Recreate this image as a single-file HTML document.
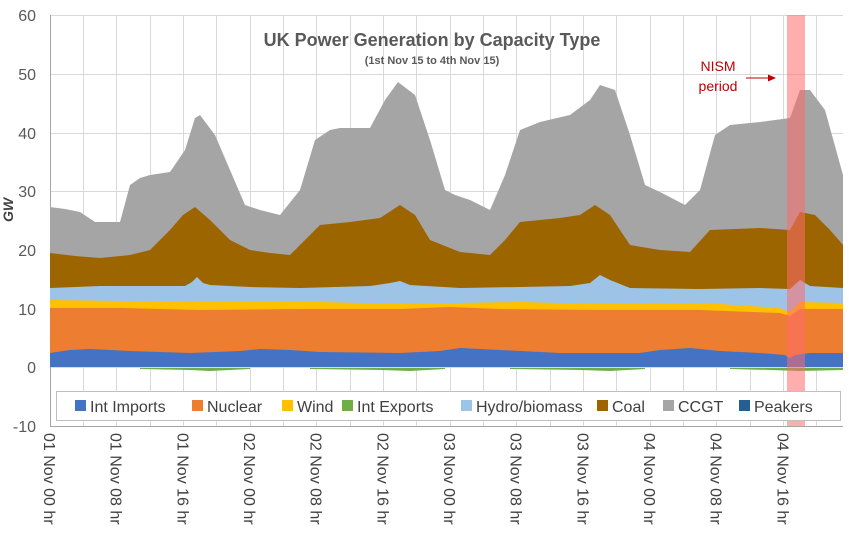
<!DOCTYPE html>
<html><head><meta charset="utf-8"><style>
body{margin:0;background:#fff;}
svg{display:block;font-family:"Liberation Sans",sans-serif;}
</style></head><body>
<svg width="849" height="537" viewBox="0 0 849 537" xmlns="http://www.w3.org/2000/svg">
<rect width="849" height="537" fill="#fff"/>
<g stroke="#d9d9d9" stroke-width="1">
<line x1="50" y1="15.5" x2="843" y2="15.5"/><line x1="50" y1="74.5" x2="843" y2="74.5"/><line x1="50" y1="133.5" x2="843" y2="133.5"/><line x1="50" y1="191.5" x2="843" y2="191.5"/><line x1="50" y1="250.5" x2="843" y2="250.5"/><line x1="50" y1="309.5" x2="843" y2="309.5"/><line x1="50" y1="367.5" x2="843" y2="367.5"/>
<line x1="83.5" y1="15" x2="83.5" y2="426"/><line x1="116.5" y1="15" x2="116.5" y2="426"/><line x1="150.5" y1="15" x2="150.5" y2="426"/><line x1="183.5" y1="15" x2="183.5" y2="426"/><line x1="216.5" y1="15" x2="216.5" y2="426"/><line x1="250.5" y1="15" x2="250.5" y2="426"/><line x1="283.5" y1="15" x2="283.5" y2="426"/><line x1="316.5" y1="15" x2="316.5" y2="426"/><line x1="350.5" y1="15" x2="350.5" y2="426"/><line x1="383.5" y1="15" x2="383.5" y2="426"/><line x1="416.5" y1="15" x2="416.5" y2="426"/><line x1="450.5" y1="15" x2="450.5" y2="426"/><line x1="483.5" y1="15" x2="483.5" y2="426"/><line x1="516.5" y1="15" x2="516.5" y2="426"/><line x1="550.5" y1="15" x2="550.5" y2="426"/><line x1="583.5" y1="15" x2="583.5" y2="426"/><line x1="616.5" y1="15" x2="616.5" y2="426"/><line x1="650.5" y1="15" x2="650.5" y2="426"/><line x1="683.5" y1="15" x2="683.5" y2="426"/><line x1="716.5" y1="15" x2="716.5" y2="426"/><line x1="750.5" y1="15" x2="750.5" y2="426"/><line x1="783.5" y1="15" x2="783.5" y2="426"/><line x1="816.5" y1="15" x2="816.5" y2="426"/>
</g>
<g stroke="#a6a6a6" stroke-width="1" fill="none">
<line x1="50.5" y1="15" x2="50.5" y2="426"/><line x1="50" y1="426.5" x2="843" y2="426.5"/>
</g>
<polygon fill="#a5a5a5" points="50,367 50,207 65,209 80,212 95,222 120,222 130,185 140,178 150,175 170,172 185,150 195,118 200,115 215,135 230,170 245,205 260,210 280,215 300,190 315,140 330,130 340,128 370,128 385,100 398,82 415,95 430,140 445,190 455,195 470,200 490,210 505,175 520,130 540,122 570,115 590,100 600,85 615,90 630,135 645,185 660,192 685,205 700,190 715,135 730,125 760,122 790,118 800,90 810,90 825,110 843,175 843,367"/>
<polygon fill="#9c6500" points="50,367 50,253 75,256 100,258 130,255 150,250 170,230 183,215 195,207 210,220 230,240 250,250 270,253 290,255 305,240 320,225 350,222 380,218 400,205 415,215 430,240 460,252 490,255 505,240 520,222 560,218 580,215 595,205 610,215 630,245 660,250 690,252 710,230 760,228 790,230 800,212 815,215 830,230 843,245 843,367"/>
<polygon fill="#9dc3e6" points="50,367 50,288 100,286 140,286 185,286 192,282 197,277 203,283 210,285 250,287 300,288 370,286 390,283 400,281 410,285 460,288 520,287 570,286 590,283 600,275 610,280 630,288 700,289 760,288 790,289 800,280 810,286 843,288 843,367"/>
<polygon fill="#ffc000" points="50,367 50,300 120,301 200,302 260,302 320,302 400,304 460,303 520,302 600,304 660,303 720,304 780,308 790,312 800,302 843,303 843,367"/>
<polygon fill="#ed7d31" points="50,367 50,308 120,308 200,310 300,309 400,309 450,307 500,309 600,310 700,310 780,313 790,316 800,309 843,309 843,367"/>
<polygon fill="#4472c4" points="50,367 50,353 70,350 90,349 130,351 190,353 240,351 260,349 290,350 320,352 400,353 440,351 460,348 500,350 560,353 640,353 660,350 690,348 720,351 760,353 785,355 790,358 795,355 810,353 843,353 843,367"/>
<g fill="#70ad47">
<polygon points="140,368 250,368 250,369 210,371 190,370 140,369"/>
<polygon points="310,368 445,368 445,369 410,371 380,370 310,369"/>
<polygon points="510,368 645,368 645,369 610,371 580,370 510,369"/>
<polygon points="730,368 843,368 843,370 800,371 770,370 730,369"/>
</g>
<rect x="787" y="15" width="18" height="411" fill="#ff6b6b" opacity="0.55"/>
<text x="432" y="46" text-anchor="middle" font-size="18" font-weight="bold" fill="#595959">UK Power Generation by Capacity Type</text>
<text x="432" y="64" text-anchor="middle" font-size="11" font-weight="bold" fill="#595959">(1st Nov 15 to 4th Nov 15)</text>
<text x="718" y="71" text-anchor="middle" font-size="14" fill="#c00000">NISM</text>
<text x="718" y="91" text-anchor="middle" font-size="14" fill="#c00000">period</text>
<line x1="746" y1="78" x2="772" y2="78" stroke="#c00000" stroke-width="1"/>
<polygon points="776,78 768,74.5 768,81.5" fill="#c00000"/>
<g font-size="16" fill="#595959" text-anchor="end">
<text x="36" y="21">60</text><text x="36" y="80">50</text><text x="36" y="139">40</text><text x="36" y="197">30</text><text x="36" y="256">20</text><text x="36" y="315">10</text><text x="36" y="373">0</text><text x="36" y="432">-10</text>
</g>
<text transform="translate(13,210) rotate(-90)" text-anchor="middle" font-size="14" font-weight="bold" font-style="italic" fill="#404040">GW</text>
<rect x="56.5" y="391.5" width="784" height="29" fill="#fff" stroke="#bfbfbf"/>
<g font-size="16" fill="#404040">
<rect x="75" y="400" width="11" height="11" fill="#4472c4"/><text x="90" y="412">Int Imports</text>
<rect x="192" y="400" width="11" height="11" fill="#ed7d31"/><text x="207" y="412">Nuclear</text>
<rect x="282" y="400" width="11" height="11" fill="#ffc000"/><text x="297" y="412">Wind</text>
<rect x="342" y="400" width="11" height="11" fill="#70ad47"/><text x="357" y="412">Int Exports</text>
<rect x="461" y="400" width="11" height="11" fill="#9dc3e6"/><text x="476" y="412">Hydro/biomass</text>
<rect x="597" y="400" width="11" height="11" fill="#9c6500"/><text x="612" y="412">Coal</text>
<rect x="663" y="400" width="11" height="11" fill="#a5a5a5"/><text x="678" y="412">CCGT</text>
<rect x="739" y="400" width="11" height="11" fill="#255e91"/><text x="754" y="412">Peakers</text>
</g>
<g font-size="16" fill="#404040">
<text transform="translate(44,433) rotate(90)">01 Nov 00 hr</text>
<text transform="translate(110.7,433) rotate(90)">01 Nov 08 hr</text>
<text transform="translate(177.3,433) rotate(90)">01 Nov 16 hr</text>
<text transform="translate(244,433) rotate(90)">02 Nov 00 hr</text>
<text transform="translate(310.7,433) rotate(90)">02 Nov 08 hr</text>
<text transform="translate(377.3,433) rotate(90)">02 Nov 16 hr</text>
<text transform="translate(444,433) rotate(90)">03 Nov 00 hr</text>
<text transform="translate(510.7,433) rotate(90)">03 Nov 08 hr</text>
<text transform="translate(577.3,433) rotate(90)">03 Nov 16 hr</text>
<text transform="translate(644,433) rotate(90)">04 Nov 00 hr</text>
<text transform="translate(710.7,433) rotate(90)">04 Nov 08 hr</text>
<text transform="translate(777.3,433) rotate(90)">04 Nov 16 hr</text>
</g>
</svg>
</body></html>
